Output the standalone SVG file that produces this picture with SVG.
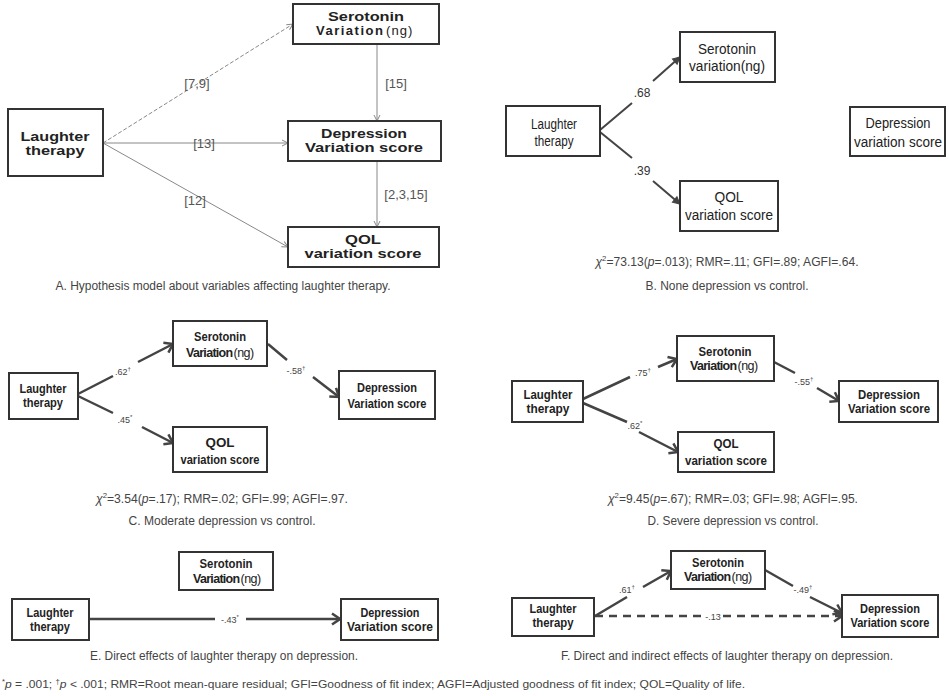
<svg xmlns="http://www.w3.org/2000/svg" width="949" height="696" viewBox="0 0 949 696">
<style>
text{font-family:"Liberation Sans",Arial,sans-serif;}
.box{fill:#fff;stroke:#333;stroke-width:2}
.nb{font-weight:bold;font-size:13px;fill:#222;text-anchor:middle}
.nr{font-size:14px;fill:#222;text-anchor:middle}
.vb{font-weight:bold;font-size:12.5px;fill:#222;letter-spacing:-0.7px}
.vn{font-size:12.5px;fill:#222;letter-spacing:-0.5px}
.la{font-size:13px;fill:#555;text-anchor:middle}
.ls{font-size:9px;fill:#444;text-anchor:middle}
.lb{font-size:12px;fill:#333;text-anchor:middle}
.cap{font-size:12.5px;fill:#444;text-anchor:middle}
.ea{stroke:#888;stroke-width:1;fill:none;marker-end:url(#ahA)}
.et{stroke:#444;stroke-width:2.5;fill:none;marker-end:url(#ahT)}
.eb{stroke:#444;stroke-width:2;fill:none;marker-end:url(#ahB)}
</style>
<defs>
<marker id="ahA" markerUnits="userSpaceOnUse" markerWidth="10" markerHeight="10" viewBox="0 0 10 10" refX="9" refY="5" orient="auto"><path d="M3,2 L9,5 L3,8" fill="none" stroke="#888" stroke-width="1"/></marker>
<marker id="ahT" markerUnits="userSpaceOnUse" markerWidth="14" markerHeight="14" viewBox="0 0 14 14" refX="12" refY="7" orient="auto"><path d="M4,1.5 L12,7 L4,12.5" fill="none" stroke="#444" stroke-width="2.5"/></marker>
<marker id="ahB" markerUnits="userSpaceOnUse" markerWidth="10" markerHeight="10" viewBox="0 0 10 10" refX="9" refY="5" orient="auto"><path d="M2,1.5 L9,5 L2,8.5 Z" fill="#444" stroke="#444" stroke-width="1"/></marker>
</defs>

<!-- Panel A -->
<g id="connectors-A">
<path class="ea" d="M103,143 L293,24" stroke-dasharray="4,2"/>
<path class="ea" d="M103,143 L288,143"/>
<path class="ea" d="M103,143 L288,247"/>
<path class="ea" d="M377,44 L377,121"/>
<path class="ea" d="M377,161 L377,227"/>
<text class="la" x="197" y="88">[7,9]</text>
<text class="la" x="396" y="88">[15]</text>
<text class="la" x="204" y="148">[13]</text>
<text class="la" x="406" y="199">[2,3,15]</text>
<text class="la" x="195" y="205">[12]</text>
</g>
<g id="A-serotonin"><rect class="box" x="293" y="4" width="146" height="40"/>
<text class="nb" x="366" y="21" textLength="76" lengthAdjust="spacingAndGlyphs">Serotonin</text>
<text x="316" y="35" font-weight="bold" font-size="13" fill="#222" letter-spacing="1.5">Variation</text>
<text x="386" y="35" font-size="13" fill="#222" letter-spacing="1.1">(ng)</text></g>
<g id="A-laughter"><rect class="box" x="8" y="109" width="95" height="67"/>
<text class="nb" x="55" y="140.5" font-size="12.5" textLength="69" lengthAdjust="spacingAndGlyphs">Laughter</text>
<text class="nb" x="55" y="154.5" font-size="12.5" textLength="59" lengthAdjust="spacingAndGlyphs">therapy</text></g>
<g id="A-depression"><rect class="box" x="288" y="121" width="153" height="40"/>
<text class="nb" x="364" y="138" textLength="86" lengthAdjust="spacingAndGlyphs">Depression</text>
<text class="nb" x="364" y="152" textLength="118" lengthAdjust="spacingAndGlyphs">Variation score</text></g>
<g id="A-qol"><rect class="box" x="288" y="227" width="151" height="40"/>
<text class="nb" x="363" y="244" textLength="36" lengthAdjust="spacingAndGlyphs">QOL</text>
<text class="nb" x="363" y="258" textLength="117" lengthAdjust="spacingAndGlyphs">variation score</text></g>
<text class="cap" x="223" y="290" textLength="335" lengthAdjust="spacingAndGlyphs">A. Hypothesis model about variables affecting laughter therapy.</text>

<!-- Panel B -->
<g id="connectors-B">
<path class="eb" d="M600,130 L632,103 M653,81 L680,57"/>
<path class="eb" d="M600,132 L632,158 M653,181 L680,204"/>
<text class="lb" x="642" y="97">.68</text>
<text class="lb" x="642" y="175">.39</text>
</g>
<g id="B-serotonin"><rect class="box" x="680" y="32" width="95" height="50"/>
<text class="nr" x="727" y="54" textLength="58" lengthAdjust="spacingAndGlyphs">Serotonin</text>
<text class="nr" x="727" y="71" textLength="76" lengthAdjust="spacingAndGlyphs">variation(ng)</text></g>
<g id="B-laughter"><rect class="box" x="506" y="106" width="94" height="50"/>
<text class="nr" x="554" y="129" textLength="46" lengthAdjust="spacingAndGlyphs">Laughter</text>
<text class="nr" x="554" y="146" textLength="39" lengthAdjust="spacingAndGlyphs">therapy</text></g>
<g id="B-depression"><rect class="box" x="850" y="107" width="95" height="49"/>
<text class="nr" x="898" y="128" textLength="65" lengthAdjust="spacingAndGlyphs">Depression</text>
<text class="nr" x="898" y="147" textLength="88" lengthAdjust="spacingAndGlyphs">variation score</text></g>
<g id="B-qol"><rect class="box" x="680" y="181" width="98" height="50"/>
<text class="nr" x="729" y="202" textLength="29" lengthAdjust="spacingAndGlyphs">QOL</text>
<text class="nr" x="729" y="220" textLength="88" lengthAdjust="spacingAndGlyphs">variation score</text></g>
<text class="cap" x="727" y="266" textLength="263" lengthAdjust="spacingAndGlyphs"><tspan font-style="italic">χ</tspan><tspan font-size="8" dy="-5">2</tspan><tspan dy="5">=73.13(</tspan><tspan font-style="italic">p</tspan>=.013); RMR=.11; GFI=.89; AGFI=.64.</text>
<text class="cap" x="727" y="290" textLength="163" lengthAdjust="spacingAndGlyphs">B. None depression vs control.</text>

<!-- Panel C -->
<g id="connectors-C">
<path class="et" d="M78,394 L113,376 M138,362 L173,344"/>
<path class="et" d="M78,396 L113,413 M142,427 L173,443"/>
<path class="et" d="M268,344 L287,360 M313,377 L339,397"/>
<text class="ls" x="123" y="375">.62<tspan font-size="6" dy="-4">†</tspan></text>
<text class="ls" x="125" y="423">.45<tspan font-size="6" dy="-4">*</tspan></text>
<text class="ls" x="296" y="374">-.58<tspan font-size="6" dy="-4">†</tspan></text>
</g>
<g id="C-serotonin"><rect class="box" x="173" y="321" width="94" height="45"/>
<text class="nb" x="220" y="341" textLength="52" lengthAdjust="spacingAndGlyphs">Serotonin</text>
<text class="vb" x="186" y="357">Variation</text>
<text class="vn" x="233.5" y="357">(ng)</text></g>
<g id="C-laughter"><rect class="box" x="9" y="373" width="69" height="46"/>
<text class="nb" x="43" y="393" textLength="47" lengthAdjust="spacingAndGlyphs">Laughter</text>
<text class="nb" x="43" y="407" textLength="40" lengthAdjust="spacingAndGlyphs">therapy</text></g>
<g id="C-depression"><rect class="box" x="339" y="371" width="96" height="48"/>
<text class="nb" x="387" y="392" textLength="60" lengthAdjust="spacingAndGlyphs">Depression</text>
<text class="nb" x="387" y="408" textLength="79" lengthAdjust="spacingAndGlyphs">Variation score</text></g>
<g id="C-qol"><rect class="box" x="173" y="427" width="94" height="45"/>
<text class="nb" x="220" y="447" textLength="29" lengthAdjust="spacingAndGlyphs">QOL</text>
<text class="nb" x="220" y="464" textLength="79" lengthAdjust="spacingAndGlyphs">variation score</text></g>
<text class="cap" x="222" y="503" textLength="252" lengthAdjust="spacingAndGlyphs"><tspan font-style="italic">χ</tspan><tspan font-size="8" dy="-5">2</tspan><tspan dy="5">=3.54(</tspan><tspan font-style="italic">p</tspan>=.17); RMR=.02; GFI=.99; AGFI=.97.</text>
<text class="cap" x="222" y="525" textLength="187" lengthAdjust="spacingAndGlyphs">C. Moderate depression vs control.</text>

<!-- Panel D -->
<g id="connectors-D">
<path class="et" d="M583,399 L630,377 M658,367 L677,359"/>
<path class="et" d="M583,403 L627,422 M639,432 L678,452"/>
<path class="et" d="M774,362 L795,373 M817,388 L839,401"/>
<text class="ls" x="643" y="376">.75<tspan font-size="6" dy="-4">†</tspan></text>
<text class="ls" x="635" y="429">.62<tspan font-size="6" dy="-4">*</tspan></text>
<text class="ls" x="804" y="385">-.55<tspan font-size="6" dy="-4">†</tspan></text>
</g>
<g id="D-serotonin"><rect class="box" x="677" y="336" width="97" height="45"/>
<text class="nb" x="725" y="356" textLength="53" lengthAdjust="spacingAndGlyphs">Serotonin</text>
<text class="vb" x="690" y="370">Variation</text>
<text class="vn" x="737.5" y="370">(ng)</text></g>
<g id="D-laughter"><rect class="box" x="512" y="381" width="71" height="41"/>
<text class="nb" x="548" y="399" textLength="49" lengthAdjust="spacingAndGlyphs">Laughter</text>
<text class="nb" x="548" y="413" textLength="43" lengthAdjust="spacingAndGlyphs">therapy</text></g>
<g id="D-depression"><rect class="box" x="839" y="381" width="99" height="41"/>
<text class="nb" x="889" y="399" textLength="62" lengthAdjust="spacingAndGlyphs">Depression</text>
<text class="nb" x="889" y="413" textLength="82" lengthAdjust="spacingAndGlyphs">Variation score</text></g>
<g id="D-qol"><rect class="box" x="678" y="432" width="96" height="40"/>
<text class="nb" x="726" y="448" textLength="25" lengthAdjust="spacingAndGlyphs">QOL</text>
<text class="nb" x="726" y="465" textLength="82" lengthAdjust="spacingAndGlyphs">variation score</text></g>
<text class="cap" x="733" y="503" textLength="250" lengthAdjust="spacingAndGlyphs"><tspan font-style="italic">χ</tspan><tspan font-size="8" dy="-5">2</tspan><tspan dy="5">=9.45(</tspan><tspan font-style="italic">p</tspan>=.67); RMR=.03; GFI=.98; AGFI=.95.</text>
<text class="cap" x="733" y="525" textLength="171" lengthAdjust="spacingAndGlyphs">D. Severe depression vs control.</text>

<!-- Panel E -->
<g id="connectors-E">
<path class="et" d="M89,619 L215,619 M246,619 L340,619"/>
<text class="ls" x="230" y="623">-.43<tspan font-size="6" dy="-4">*</tspan></text>
</g>
<g id="E-serotonin"><rect class="box" x="179" y="552" width="94" height="38"/>
<text class="nb" x="226" y="568" textLength="53" lengthAdjust="spacingAndGlyphs">Serotonin</text>
<text class="vb" x="193" y="583">Variation</text>
<text class="vn" x="240.5" y="583">(ng)</text></g>
<g id="E-laughter"><rect class="box" x="12" y="599" width="77" height="41"/>
<text class="nb" x="50" y="617" textLength="47" lengthAdjust="spacingAndGlyphs">Laughter</text>
<text class="nb" x="50" y="631" textLength="40" lengthAdjust="spacingAndGlyphs">therapy</text></g>
<g id="E-depression"><rect class="box" x="341" y="599" width="97" height="41"/>
<text class="nb" x="390" y="617" textLength="59" lengthAdjust="spacingAndGlyphs">Depression</text>
<text class="nb" x="390" y="631" textLength="86" lengthAdjust="spacingAndGlyphs">Variation score</text></g>
<text class="cap" x="224" y="660" textLength="268" lengthAdjust="spacingAndGlyphs">E. Direct effects of laughter therapy on depression.</text>

<!-- Panel F -->
<g id="connectors-F">
<path class="et" d="M595,616 L627,597 M643,587 L671,571"/>
<path class="et" d="M765,570 L793,586 M810,597 L842,613"/>
<path class="et" d="M595,616 L703,616 M723,616 L842,616" stroke-dasharray="8,6"/>
<text class="ls" x="627" y="593">.61<tspan font-size="6" dy="-4">†</tspan></text>
<text class="ls" x="803" y="593">-.49<tspan font-size="6" dy="-4">†</tspan></text>
<text class="ls" x="713" y="620">-.13</text>
</g>
<g id="F-serotonin"><rect class="box" x="671" y="551" width="94" height="38"/>
<text class="nb" x="718" y="567" textLength="52" lengthAdjust="spacingAndGlyphs">Serotonin</text>
<text class="vb" x="684" y="581">Variation</text>
<text class="vn" x="731.5" y="581">(ng)</text></g>
<g id="F-laughter"><rect class="box" x="512" y="598" width="82" height="38"/>
<text class="nb" x="553" y="613" textLength="47" lengthAdjust="spacingAndGlyphs">Laughter</text>
<text class="nb" x="553" y="627" textLength="41" lengthAdjust="spacingAndGlyphs">therapy</text></g>
<g id="F-depression"><rect class="box" x="842" y="595" width="96" height="42"/>
<text class="nb" x="890" y="613" textLength="60" lengthAdjust="spacingAndGlyphs">Depression</text>
<text class="nb" x="890" y="627" textLength="79" lengthAdjust="spacingAndGlyphs">Variation score</text></g>
<text class="cap" x="727" y="660" textLength="332" lengthAdjust="spacingAndGlyphs">F. Direct and indirect effects of laughter therapy on depression.</text>

<!-- Footnote -->
<text x="2" y="688" font-size="11" fill="#444" textLength="743" lengthAdjust="spacingAndGlyphs"><tspan font-size="7" dy="-4">*</tspan><tspan font-style="italic" dy="4">p</tspan> = .001; <tspan font-size="7" dy="-4">†</tspan><tspan font-style="italic" dy="4">p</tspan> &lt; .001; RMR=Root mean-quare residual; GFI=Goodness of fit index; AGFI=Adjusted goodness of fit index; QOL=Quality of life.</text>
</svg>
